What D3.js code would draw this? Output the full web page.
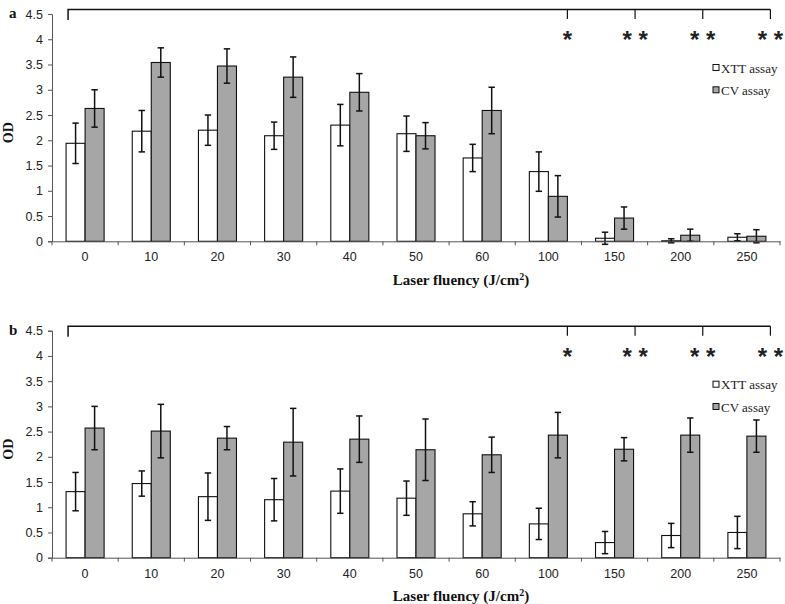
<!DOCTYPE html>
<html><head><meta charset="utf-8">
<script src="https://cdn.jsdelivr.net/npm/d3@7/dist/d3.min.js"></script>
<style>body{margin:0;background:#fff}svg{display:block}</style>
</head><body>
<svg id="chart" width="785" height="604"></svg>
<script>
const fluency = ["0","10","20","30","40","50","60","100","150","200","250"];
const yTicks = [0,0.5,1,1.5,2,2.5,3,3.5,4,4.5];
const seriesNames = ["XTT assay","CV assay"];
const significance = ["","","","","","","","*","* *","* *","* *"];

const aXtt    = [1.94,2.18,2.20,2.09,2.30,2.13,1.65,1.38,0.06,0.01,0.08];
const aXttErr = [0.40,0.41,0.30,0.27,0.41,0.35,0.27,0.39,0.12,0.04,0.07];
const aCv     = [2.63,3.54,3.47,3.25,2.95,2.09,2.59,0.89,0.46,0.12,0.10];
const aCvErr  = [0.37,0.29,0.34,0.40,0.37,0.26,0.46,0.41,0.22,0.12,0.13];

const bXtt    = [1.31,1.47,1.21,1.15,1.32,1.18,0.87,0.67,0.30,0.44,0.50];
const bXttErr = [0.38,0.25,0.47,0.42,0.44,0.34,0.24,0.31,0.22,0.24,0.32];
const bCv     = [2.57,2.51,2.37,2.29,2.35,2.14,2.04,2.43,2.15,2.43,2.41];
const bCvErr  = [0.43,0.53,0.23,0.67,0.46,0.61,0.35,0.45,0.23,0.34,0.32];

const svg = d3.select("#chart");
const fills = {"XTT assay":"#ffffff","CV assay":"#a6a6a6"};
const sansFont = "'Liberation Sans', Arial, sans-serif";
const serifFont = "'Liberation Serif', 'Times New Roman', serif";

const x = d3.scaleBand().domain(fluency).range([52,780]).padding(0);
const x1 = d3.scaleBand().domain(seriesNames).range([0,x.bandwidth()]).paddingInner(0).paddingOuter(0.74);

function panel(opts){
  const {letter, top, bottom, xtt, xttErr, cv, cvErr, labelY} = opts;
  const y = d3.scaleLinear().domain([0,4.5]).range([bottom, top]);
  const g = svg.append("g");

  const rows = fluency.map((f,i)=>[
    {f, i, s:"XTT assay", v:xtt[i], e:xttErr[i]},
    {f, i, s:"CV assay", v:cv[i], e:cvErr[i]}
  ]).flat();

  // bars
  g.selectAll("rect.bar").data(rows).join("rect")
    .attr("x", d=>x(d.f)+x1(d.s)).attr("width", x1.bandwidth())
    .attr("y", d=>y(d.v)).attr("height", d=>y(0)-y(d.v))
    .attr("fill", d=>fills[d.s]).attr("stroke","#111").attr("stroke-width",1.1);

  // error bars
  const eb = g.selectAll("g.err").data(rows).join("g")
    .attr("stroke","#111").attr("stroke-width",1.5);
  const cx = d=>x(d.f)+x1(d.s)+x1.bandwidth()/2;
  eb.append("line").attr("x1",cx).attr("x2",cx).attr("y1",d=>y(d.v+d.e)).attr("y2",d=>y(d.v-d.e));
  eb.append("line").attr("x1",d=>cx(d)-3.2).attr("x2",d=>cx(d)+3.2).attr("y1",d=>y(d.v+d.e)).attr("y2",d=>y(d.v+d.e));
  eb.append("line").attr("x1",d=>cx(d)-3.2).attr("x2",d=>cx(d)+3.2).attr("y1",d=>y(d.v-d.e)).attr("y2",d=>y(d.v-d.e));

  // y axis
  const ya = g.append("g").attr("transform","translate(52,0)")
    .call(d3.axisLeft(y).tickValues(yTicks).tickFormat(d=>String(d)).tickSize(4).tickPadding(5));
  ya.selectAll("text").attr("font-family",sansFont).attr("font-size",12.5).attr("fill","#222");
  ya.selectAll("line,path").attr("stroke","#555");

  // x axis
  const xa = g.append("g").attr("transform",`translate(0,${bottom})`)
    .call(d3.axisBottom(x).tickSize(0).tickPadding(11));
  xa.selectAll("text").attr("font-family",sansFont).attr("font-size",12.5).attr("fill","#222");
  xa.select("path").attr("stroke","#555");
  const bnd = fluency.map(f=>x(f)).concat([x.range()[1]]);
  g.selectAll("line.xt").data(bnd).join("line")
    .attr("x1",d=>d).attr("x2",d=>d).attr("y1",bottom).attr("y2",bottom+4)
    .attr("stroke","#555");

  // bracket
  const bx = (i)=> x(fluency[i]) + x1("CV assay") + x1.bandwidth() + (i-7)*1.5;
  const by = top-4.5;
  const leftX = x(fluency[0]) + x1("XTT assay") + 2;
  const sigIdx = significance.map((s,i)=>s?i:-1).filter(i=>i>=0);
  const rightX = bx(sigIdx[sigIdx.length-1]);
  g.append("path").attr("d",`M${leftX},${by+10.5}V${by}H${rightX}`)
    .attr("fill","none").attr("stroke","#111").attr("stroke-width",1.5);
  g.selectAll("line.sig").data(sigIdx).join("line")
    .attr("x1",bx).attr("x2",bx).attr("y1",by).attr("y2",by+9.5)
    .attr("stroke","#111").attr("stroke-width",1.2);
  g.selectAll("text.star").data(sigIdx).join("text")
    .attr("x",bx).attr("y",by+38.5).attr("text-anchor","middle")
    .attr("font-family",sansFont).attr("font-size",24).attr("font-weight","bold")
    .attr("xml:space","preserve").style("white-space","pre")
    .attr("fill","#222").text(i=>significance[i]);

  // legend
  const lg = g.append("g");
  seriesNames.forEach((s,k)=>{
    const ly = top + 54 + k*22.3;
    lg.append("rect").attr("x",713).attr("y",ly-3.5).attr("width",6).attr("height",6)
      .attr("fill",fills[s]).attr("stroke","#111").attr("stroke-width",1);
    lg.append("text").attr("x",721).attr("y",ly+4.5).attr("font-family",serifFont)
      .attr("font-size",13).attr("fill","#222").text(s);
  });

  // labels
  g.append("text").attr("x",461).attr("y",labelY).attr("text-anchor","middle")
    .attr("font-family",serifFont).attr("font-weight","bold").attr("font-size",15)
    .attr("fill","#111")
    .call(t=>{ t.append("tspan").text("Laser fluency (J/cm");
               t.append("tspan").attr("font-size",10).attr("dy",-5).text("2");
               t.append("tspan").attr("dy",5).text(")"); });
  const odY = (top+bottom)/2 + 5;
  g.append("text").attr("transform",`translate(13,${odY}) rotate(-90)`).attr("text-anchor","middle")
    .attr("font-family",serifFont).attr("font-weight","bold").attr("font-size",14).attr("fill","#111").text("OD");
  g.append("text").attr("x",9).attr("y",top+4).attr("font-family",serifFont)
    .attr("font-weight","bold").attr("font-size",15).attr("fill","#111").text(letter);
}

panel({letter:"a", top:14, bottom:241.3, xtt:aXtt, xttErr:aXttErr, cv:aCv, cvErr:aCvErr, labelY:285});
panel({letter:"b", top:330.7, bottom:557.7, xtt:bXtt, xttErr:bXttErr, cv:bCv, cvErr:bCvErr, labelY:601});
</script>
</body></html>
